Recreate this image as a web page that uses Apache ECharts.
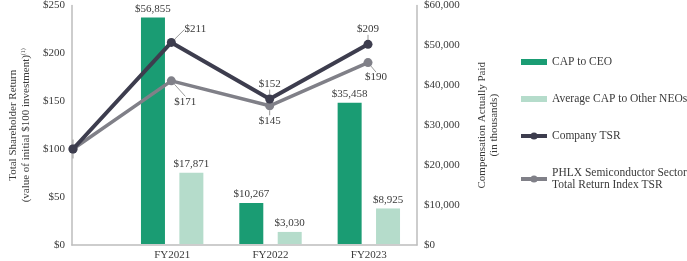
<!DOCTYPE html>
<html><head><meta charset="utf-8">
<script src="https://cdn.jsdelivr.net/npm/echarts@6/dist/echarts.min.js"></script>
<style>html,body{margin:0;padding:0;background:#fff}#c{width:687px;height:261px}</style>
</head><body><div id="c"></div>
<script>
const categories = ["", "FY2021", "FY2022", "FY2023"];
const capCEO = [null, 56855, 10267, 35458];
const capNEO = [null, 17871, 3030, 8925];
const companyTSR = [100, 211, 152, 209];
const phlxTSR = [100, 171, 145, 190];
const leftTicks = [0, 50, 100, 150, 200, 250];
const rightTicks = [0, 10000, 20000, 30000, 40000, 50000, 60000];

const FONT = "'Liberation Serif', 'DejaVu Serif', serif";
const TXT = '#3a3a3a';
const fmtK = v => '$' + v.toLocaleString('en-US');
const BAR_ICON = 'path://M0,0 L26,0 L26,6 L0,6 Z';

const chart = echarts.init(document.getElementById('c'));
chart.setOption({
  animation: false,
  textStyle: { fontFamily: FONT },
  grid: [
    { left: 65, right: 270, top: 5, bottom: 16, containLabel: false },
    { left: 123, right: 269, top: 5, bottom: 16, containLabel: false },
    { left: 73, right: 319, top: 5, bottom: 16, containLabel: false }
  ],
  legend: {
    orient: 'vertical', left: 514, top: 51, itemGap: 25,
    itemWidth: 26, itemHeight: 9,
    textStyle: { fontFamily: FONT, fontSize: 11.5, color: TXT, lineHeight: 12 },
    data: [
      { name: 'CAP to CEO', icon: BAR_ICON },
      { name: 'Average CAP to Other NEOs', icon: BAR_ICON },
      { name: 'Company TSR', lineStyle: { width: 4 } },
      { name: 'PHLX Semiconductor Sector\nTotal Return Index TSR', lineStyle: { width: 4 } }
    ]
  },
  xAxis: [{
    type: 'value', min: 0, max: 1, gridIndex: 0,
    splitLine: { show: false },
    axisTick: { show: false },
    axisLabel: { show: false },
    axisLine: { show: true, onZero: false, lineStyle: { color: '#bdbdbd', width: 1.5 } }
  }, {
    type: 'category', gridIndex: 1, data: categories.slice(1), boundaryGap: true,
    axisLine: { show: false }, axisTick: { show: false },
    axisLabel: { fontFamily: FONT, fontSize: 11, color: TXT, margin: 6 }
  }, {
    type: 'category', gridIndex: 2, data: categories, boundaryGap: false, show: false
  }],
  yAxis: [{
    type: 'value', gridIndex: 0, min: leftTicks[0], max: leftTicks[leftTicks.length - 1], interval: 50,
    splitLine: { show: false },
    axisLine: { show: true, lineStyle: { color: '#bdbdbd', width: 1.5 } },
    axisTick: { show: false },
    axisLabel: { formatter: v => '$' + v, fontFamily: FONT, fontSize: 11, color: TXT, margin: 7 },
    name: '{a|Total Shareholder Return}\n{a|(value of initial $100 investment)}{s|(1)}',
    nameLocation: 'middle', nameRotate: 90, nameGap: 36,
    nameTextStyle: { rich: {
      a: { fontFamily: FONT, fontSize: 11, color: TXT, lineHeight: 13 },
      s: { fontFamily: FONT, fontSize: 6, color: TXT, verticalAlign: 'top', lineHeight: 13 }
    } }
  }, {
    type: 'value', gridIndex: 0, min: rightTicks[0], max: rightTicks[rightTicks.length - 1], interval: 10000,
    position: 'right',
    splitLine: { show: false },
    axisLine: { show: true, lineStyle: { color: '#bdbdbd', width: 1.5 } },
    axisTick: { show: false },
    axisLabel: { formatter: v => fmtK(v), fontFamily: FONT, fontSize: 11, color: TXT, margin: 7 },
    name: 'Compensation Actually Paid\n(in thousands)',
    nameLocation: 'middle', nameRotate: 90, nameGap: 59,
    nameTextStyle: { fontFamily: FONT, fontSize: 11, color: TXT, lineHeight: 12 }
  }, {
    type: 'value', gridIndex: 1, min: rightTicks[0], max: rightTicks[rightTicks.length - 1], show: false,
    splitLine: { show: false }
  }, {
    type: 'value', gridIndex: 2, min: leftTicks[0], max: leftTicks[leftTicks.length - 1], show: false,
    splitLine: { show: false }
  }],
  series: [{
    name: 'CAP to CEO', type: 'bar', xAxisIndex: 1, yAxisIndex: 2,
    barWidth: 24, barGap: '60%',
    itemStyle: { color: '#1a9c73' },
    label: { show: true, position: 'top', formatter: p => fmtK(p.value), fontFamily: FONT, fontSize: 11, color: TXT, distance: 3 },
    data: capCEO.slice(1)
  }, {
    name: 'Average CAP to Other NEOs', type: 'bar', xAxisIndex: 1, yAxisIndex: 2,
    barWidth: 24, barGap: '60%',
    itemStyle: { color: '#b5dccb' },
    label: { show: true, position: 'top', formatter: p => fmtK(p.value), fontFamily: FONT, fontSize: 11, color: TXT, distance: 3 },
    data: capNEO.slice(1)
  }, {
    name: 'Company TSR', type: 'line', xAxisIndex: 2, yAxisIndex: 3, z: 5,
    symbol: 'circle', symbolSize: 9,
    lineStyle: { color: '#3d3d4e', width: 4 },
    itemStyle: { color: '#3d3d4e' },
    label: { show: true, position: 'top', formatter: p => p.dataIndex === 0 ? '' : '$' + p.value, fontFamily: FONT, fontSize: 11, color: TXT, distance: 5 },
    labelLine: { show: true, lineStyle: { color: '#9a9a9a', width: 1 } },
    labelLayout: p => p.dataIndex === 1 ? { dx: 24, dy: 2 } : {},
    data: companyTSR
  }, {
    name: 'PHLX Semiconductor Sector\nTotal Return Index TSR', type: 'line', xAxisIndex: 2, yAxisIndex: 3, z: 4,
    symbol: 'circle', symbolSize: 9,
    lineStyle: { color: '#808088', width: 3.5 },
    itemStyle: { color: '#808088' },
    label: { show: true, position: 'bottom', formatter: p => p.dataIndex === 0 ? '' : '$' + p.value, fontFamily: FONT, fontSize: 11, color: TXT, distance: 5 },
    labelLine: { show: true, lineStyle: { color: '#9a9a9a', width: 1 } },
    labelLayout: p => p.dataIndex === 1 ? { dx: 14, dy: 6 } : (p.dataIndex === 3 ? { dx: 8, dy: 0 } : {}),
    data: phlxTSR
  }]
});
</script></body></html>
